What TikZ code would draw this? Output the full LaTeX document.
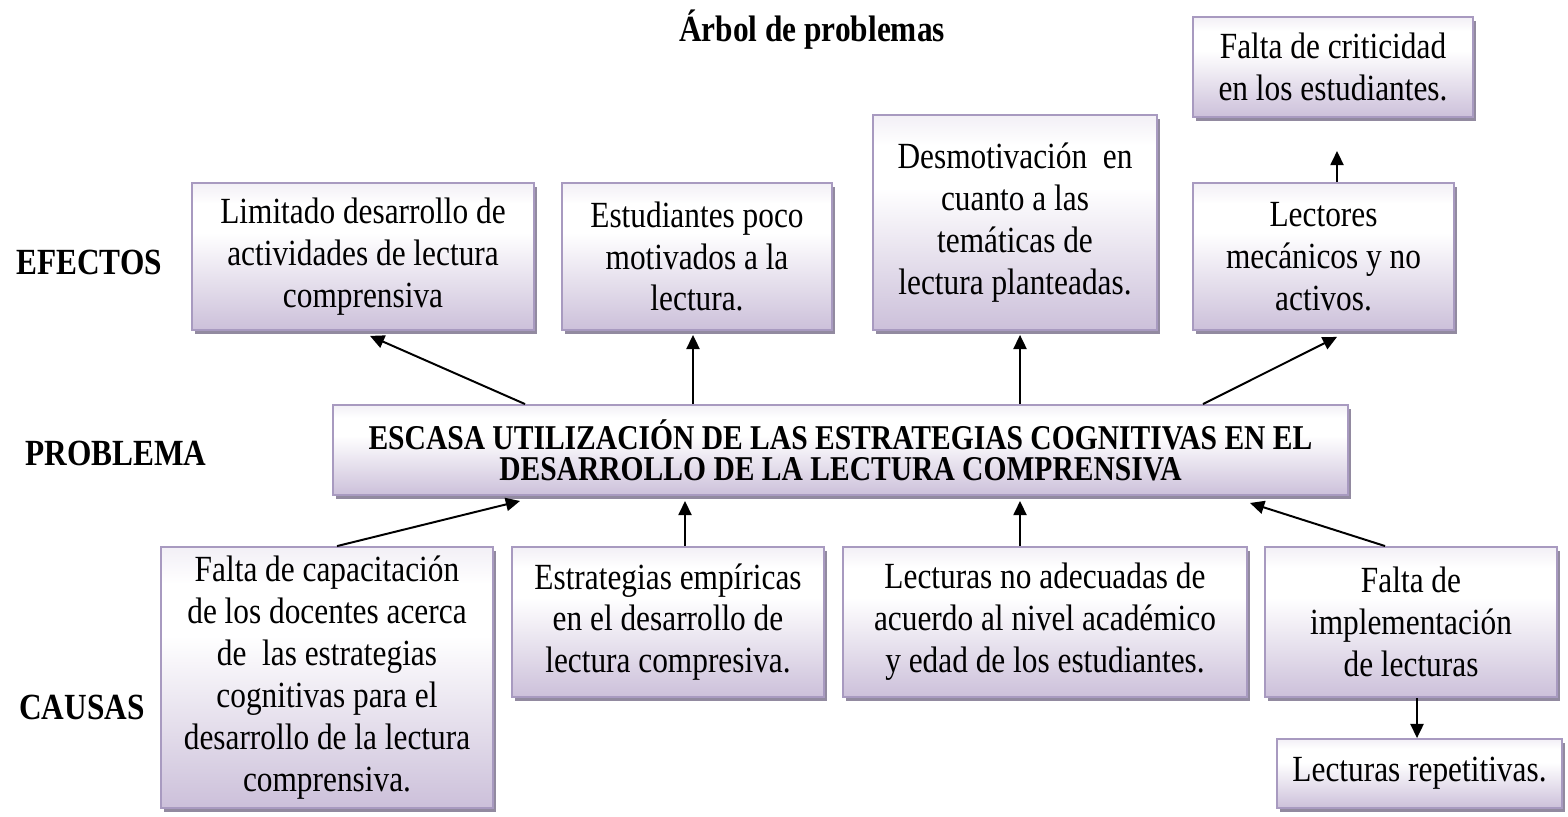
\documentclass[tikz,border=0pt]{standalone}
\usepackage{fontspec}
\setmainfont{Liberation Serif}[FakeStretch=0.85]
\usetikzlibrary{arrows.meta,shadows,calc}

\definecolor{lila}{RGB}{204,192,218}
\definecolor{borde}{RGB}{168,154,192}
\definecolor{sombra}{RGB}{146,138,160}
\pgfdeclareverticalshading{lilashade}{100bp}{color(0bp)=(lila); color(25bp)=(lila); color(58bp)=(white); color(68bp)=(white); color(75bp)=(lila!25); color(100bp)=(lila!25)}

\begin{document}
\begin{tikzpicture}[x=0.3797pt, y=-0.3797pt,
    caja/.style={rectangle, draw=borde, line width=0.7pt, shading=lilashade, align=center, inner sep=0pt,
      font=\fontsize{14pt}{15.9pt}\selectfont,
      drop shadow={shadow xshift=1.3pt, shadow yshift=-1.5pt, fill=sombra, opacity=1}},
    etiqueta/.style={font=\fontsize{14pt}{15pt}\selectfont\bfseries},
    flecha/.style={-{Triangle[length=5.4pt,width=5pt]}, line width=0.75pt}]
      \useasboundingbox (0,0) rectangle (1568,816);

      \node[etiqueta] (titulo) at (812,30) {Árbol de problemas};
      \node[etiqueta] (efectos) at (89,262) {EFECTOS};
      \node[etiqueta] (problema) at (116,453) {PROBLEMA};
      \node[etiqueta] (causas) at (82,707) {CAUSAS};

      % efectos
      \node[caja, minimum width=106.3pt, minimum height=38pt] (cr) at (1333,67) {Falta de criticidad\\en los estudiantes.};
      \node[caja, minimum width=129.9pt, minimum height=55.8pt] (ef1) at (363,256.5) {Limitado desarrollo de\\actividades de lectura\\comprensiva};
      \node[caja, minimum width=102.5pt, minimum height=55.8pt] (ef2) at (697,256.5) {Estudiantes poco\\motivados a la\\lectura.};
      \node[caja, minimum width=107.8pt, minimum height=81.6pt] (ef3) at (1015,222.5) {Desmotivación~ en\\cuanto a las\\temáticas de\\lectura planteadas.};
      \node[caja, minimum width=99.1pt, minimum height=55.8pt] (ef4) at (1323.5,256.5) {Lectores\\mecánicos y no\\activos.};

      % problema
      \node[caja, minimum width=385.4pt, minimum height=34.2pt, font=\fontsize{13.2pt}{11.8pt}\selectfont\bfseries] (prob) at (840.5,450)
        {ESCASA UTILIZACIÓN DE LAS ESTRATEGIAS COGNITIVAS EN EL\\DESARROLLO DE LA LECTURA COMPRENSIVA};

      % causas
      \node[caja, minimum width=126.1pt, minimum height=99.1pt] (ca1) at (327,677.5) {Falta de capacitación\\de los docentes acerca\\de~ las estrategias\\cognitivas para el\\desarrollo de la lectura\\comprensiva.};
      \node[caja, minimum width=118.5pt, minimum height=57pt] (ca2) at (668,622) {Estrategias empíricas\\en el desarrollo de\\lectura compresiva.};
      \node[caja, minimum width=153.4pt, minimum height=57pt] (ca3) at (1045,622) {Lecturas no adecuadas de\\acuerdo al nivel académico\\y edad de los estudiantes.};
      \node[caja, minimum width=110.9pt, minimum height=57pt] (ca4) at (1411,622) {Falta de\\implementación\\de lecturas};
      \node[caja, minimum width=108.2pt, minimum height=26.2pt] (ca5) at (1419.5,773.5) {Lecturas repetitivas.};

      \draw[flecha] ($(prob.north)+(-315.5,0)$) -- ($(ef1.south)+(7,5)$);
      \draw[flecha] ($(prob.north)+(-147.5,0)$) -- ($(ef2.south)+(-4,4)$);
      \draw[flecha] ($(prob.north)+(179.5,0)$) -- ($(ef3.south)+(5,4)$);
      \draw[flecha] ($(prob.north)+(362.5,0)$) -- ($(ef4.south)+(13.5,6)$);
      \draw[flecha] ($(ef4.north)+(13.5,0)$) -- ($(cr.south)+(4,33)$);

      \draw[flecha] ($(ca1.north)+(10,0)$) -- ($(prob.south)+(-320.5,5)$);
      \draw[flecha] ($(ca2.north)+(17,0)$) -- ($(prob.south)+(-155.5,5)$);
      \draw[flecha] ($(ca3.north)+(-25,0)$) -- ($(prob.south)+(179.5,5)$);
      \draw[flecha] ($(ca4.north)+(-26,0)$) -- ($(prob.south)+(409.5,7)$);
      \draw[flecha] ($(ca4.south)+(6,0)$) -- ($(ca5.north)+(-2.5,0)$);
    \end{tikzpicture}
\end{document}
